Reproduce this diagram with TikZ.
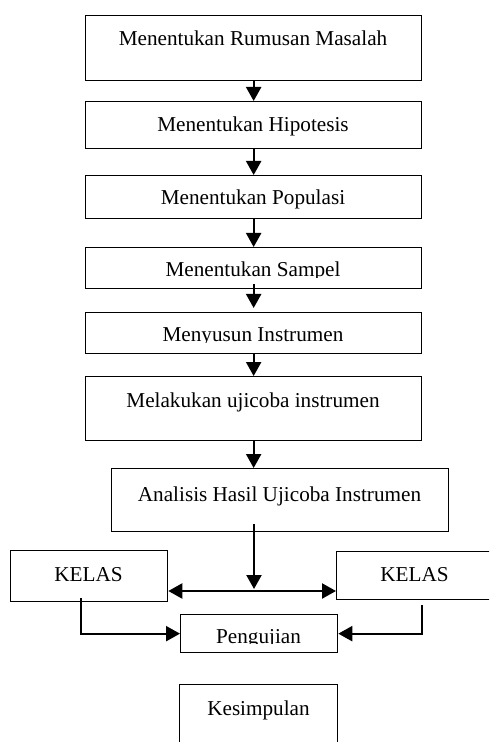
\documentclass[tikz,border=0pt]{standalone}
\usepackage{fontspec}
\setmainfont{Liberation Serif}
\usetikzlibrary{arrows.meta, positioning, calc}

\begin{document}
\begin{tikzpicture}[
    x=0.5pt, y=-0.5pt,
    >={Triangle[width=7.5pt, length=7pt]},
    box/.style={draw, line width=0.65pt, rectangle, inner sep=0pt, anchor=north west},
    boxsize/.style 2 args={minimum width=#1*0.5pt, minimum height=#2*0.5pt},
    lbl/.style={inner sep=0pt, anchor=base, font=\fontsize{10.6}{12}\selectfont},
    arr/.style={line width=1.1pt, ->},
  ]
  \useasboundingbox (0,0) rectangle (489,742);
  \clip (0,0) rectangle (489,742);

  % boxes
  \node[box, boxsize={336}{65}] (rum)  at (85,15)   {};
  \node[box, boxsize={336}{47}] (hip)  at (85,101)  {};
  \node[box, boxsize={336}{43}] (pop)  at (85,175)  {};
  \node[box, boxsize={336}{41}] (smp)  at (85,247)  {};
  \node[box, boxsize={336}{41}] (sus)  at (85,312)  {};
  \node[box, boxsize={336}{64}] (mel)  at (85,376)  {};
  \node[box, boxsize={337}{63}] (ana)  at (111,468) {};
  \node[box, boxsize={157}{51}] (kls1) at (10,550)  {};
  \node[box, boxsize={157}{48}] (kls2) at (336,551) {};
  \node[box, boxsize={157}{38}] (peng) at (180,614) {};
  \node[box, boxsize={158}{70}] (kes)  at (179,684) {};

  % texts
  \node[lbl] (rum-t)  at (253,46)    {Menentukan Rumusan Masalah};
  \node[lbl] (hip-t)  at (253,132)   {Menentukan Hipotesis};
  \node[lbl] (pop-t)  at (253,205)   {Menentukan Populasi};
  \begin{scope}
    \clip (85,247) rectangle (421,277.5);
    \node[lbl] (smp-t) at (253,277)  {Menentukan Sampel};
  \end{scope}
  \begin{scope}
    \clip (85,312) rectangle (421,342.5);
    \node[lbl] (sus-t) at (253,342)  {Menyusun Instrumen};
  \end{scope}
  \node[lbl] (mel-t)  at (253,407)   {Melakukan ujicoba instrumen};
  \node[lbl] (ana-t)  at (279.5,501) {Analisis Hasil Ujicoba Instrumen};
  \node[lbl] (kls1-t) at (88.5,581)  {KELAS};
  \node[lbl] (kls2-t) at (414.5,581) {KELAS};
  \begin{scope}
    \clip (180,614) rectangle (337,643.5);
    \node[lbl] (peng-t) at (258.5,643) {Pengujian};
  \end{scope}
  \node[lbl] (kes-t)  at (258.5,715) {Kesimpulan};

  % connectors
  \coordinate (jn) at (254,591);
  \coordinate (lk) at (81,598);
  \coordinate (rk) at (422,605);
  \draw[arr] (rum.south) -- (hip.north);
  \draw[arr] (hip.south) -- (pop.north);
  \draw[arr] (pop.south) -- (smp.north);
  \draw[arr] ($(smp.south)+(0,-5)$) -- ($(sus.north)+(0,-4)$);
  \draw[arr] (sus.south) -- (mel.north);
  \draw[arr] (mel.south) -- (mel.south |- ana.north);
  \draw[arr] ($(ana.south -| jn)+(0,-8)$) -- ($(jn)+(0,-2)$);
  \draw[line width=1.1pt, <->] (jn -| kls1.east) -- (jn -| kls2.west);
  \draw[arr] (lk) |- (peng.west);
  \draw[arr] (rk) |- (peng.east);
\end{tikzpicture}
\end{document}
